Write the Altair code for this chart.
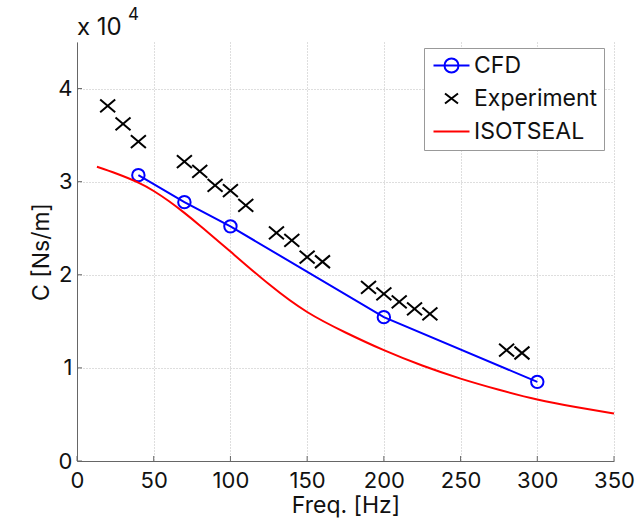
import altair as alt
import pandas as pd

# ---- data ----
series_names = ["CFD", "Experiment", "ISOTSEAL"]

cfd_freq = [40, 70, 100, 200, 300]
cfd_c = [30700, 27800, 25200, 15450, 8500]

exp_freq = [20, 30, 40, 70, 80, 90, 100, 110, 130, 140, 150, 160, 190, 200, 210, 220, 230, 280, 290]
exp_c = [38150, 36200, 34300, 32150, 31100, 29600, 29050, 27450, 24500, 23700, 21900, 21400,
         18640, 17950, 17100, 16350, 15800, 11900, 11600]

iso_freq = [13, 26, 40, 50, 60, 70, 80, 90, 100, 125, 150, 175, 200, 225, 250, 275, 300, 325, 350]
iso_c = [31600, 30850, 29900, 29000, 27900, 26650, 25300, 23900, 22500, 19000, 16000, 13800,
         11900, 10250, 8850, 7650, 6600, 5800, 5100]

x_ticks = [0, 50, 100, 150, 200, 250, 300, 350]
y_ticks = [0, 10000, 20000, 30000, 40000]

FONT = "Inter"
W, H = 537, 419

cfd_df = pd.DataFrame({"f": cfd_freq, "c": cfd_c})
exp_df = pd.DataFrame({"f": exp_freq, "c": exp_c})
iso_df = pd.DataFrame({"f": iso_freq, "c": iso_c})

xs = alt.Scale(domain=[0, 350], nice=False, zero=False)
ys = alt.Scale(domain=[0, 45000], nice=False)

x_enc = alt.X("f:Q", scale=xs, axis=alt.Axis(values=x_ticks, title="Freq. [Hz]", labelFlush=False,
                                              titleX=W / 2, titleY=51, titleBaseline="alphabetic",
                                              titleAlign="center"))
y_enc = alt.Y("c:Q", scale=ys, axis=alt.Axis(values=y_ticks, title="C [Ns/m]", labelFlush=False,
                                              labelExpr="datum.value / 10000",
                                              titleX=-36, titleY=H / 2, titleBaseline="middle",
                                              titleAlign="center", titleAngle=270))

x_path = "M-1,-0.85L1,0.85M-1,0.85L1,-0.85"

cfd_line = alt.Chart(cfd_df).mark_line(color="#0000ff", strokeWidth=2).encode(x=x_enc, y=y_enc)
cfd_pts = alt.Chart(cfd_df).mark_point(shape="circle", size=154, color="#0000ff", filled=False,
                                       strokeWidth=2, opacity=1).encode(x="f:Q", y="c:Q")
exp_pts = alt.Chart(exp_df).mark_point(shape=x_path, size=225, color="#000000", filled=False,
                                       strokeWidth=2, opacity=1).encode(x="f:Q", y="c:Q")
iso_line = alt.Chart(iso_df).mark_line(color="#ff0000", strokeWidth=2, interpolate="natural").encode(
    x="f:Q", y="c:Q")

# inward tick marks (MATLAB style)
xt_df = pd.DataFrame({"f": x_ticks})
yt_df = pd.DataFrame({"c": y_ticks})
x_tick_rules = alt.Chart(xt_df).mark_rule(color="#666666", strokeWidth=1).encode(
    x="f:Q", y=alt.value(H), y2=alt.value(H - 5))
y_tick_rules = alt.Chart(yt_df).mark_rule(color="#666666", strokeWidth=1).encode(
    y="c:Q", x=alt.value(0), x2=alt.value(5))

# legend (symbols built as custom paths: line+circle, x, line)
legend_paths = [
    "M-0.8,0L2.8,0M1.7,0A0.7,0.7 0 1,1 0.3,0A0.7,0.7 0 1,1 1.7,0",
    "M0.35,-0.5L1.65,0.5M0.35,0.5L1.65,-0.5",
    "M-0.8,0L2.8,0",
]
legend_colors = ["#0000ff", "#000000", "#ff0000"]
leg_df = pd.DataFrame({"series": series_names})
legend_layer = alt.Chart(leg_df).mark_point(filled=False, strokeWidth=2, size=400, opacity=1).encode(
    color=alt.Color("series:N", scale=alt.Scale(domain=series_names, range=legend_colors), title=None),
    shape=alt.Shape("series:N", scale=alt.Scale(domain=series_names, range=legend_paths), title=None),
).transform_filter("false")

# "x 10^4" multiplier label
mult_df = pd.DataFrame({"t": ["x 10"]})
exp_lbl_df = pd.DataFrame({"t": ["4"]})
mult_text = alt.Chart(mult_df).mark_text(align="left", baseline="alphabetic", font=FONT, fontSize=24,
                                         color="#111111").encode(
    x=alt.value(0), y=alt.value(-7), text="t:N")
mult_exp = alt.Chart(exp_lbl_df).mark_text(align="left", baseline="alphabetic", font=FONT, fontSize=17,
                                           color="#111111").encode(
    x=alt.value(51), y=alt.value(-22), text="t:N")

chart = alt.layer(
    cfd_line, cfd_pts, exp_pts, iso_line, x_tick_rules, y_tick_rules, legend_layer, mult_text, mult_exp
).properties(
    width=W, height=H,
    autosize=alt.AutoSizeParams(type="none"),
    padding={"left": 77, "top": 42, "right": 25, "bottom": 58},
    background="white",
).configure_view(
    strokeWidth=0
).configure_axis(
    domainColor="#666666", domainWidth=1, ticks=False,
    grid=True, gridColor="#bdbdbd", gridDash=[1, 2], gridWidth=1,
    labelFont=FONT, labelFontSize=22, labelColor="#111111",
    titleFont=FONT, titleFontSize=23, titleFontWeight="normal", titleColor="#111111",
).configure_axisX(
    labelPadding=9
).configure_axisY(
    labelPadding=5
).configure_legend(
    orient="none", legendX=347, legendY=6, padding=6, rowPadding=9,
    labelFont=FONT, labelFontSize=23, labelColor="#111111", labelOffset=21,
    strokeColor="#999999", fillColor="white", symbolSize=400, symbolStrokeWidth=2,
    cornerRadius=0,
)

chart.save("out.html", embed_options={"renderer": "svg", "actions": False})
